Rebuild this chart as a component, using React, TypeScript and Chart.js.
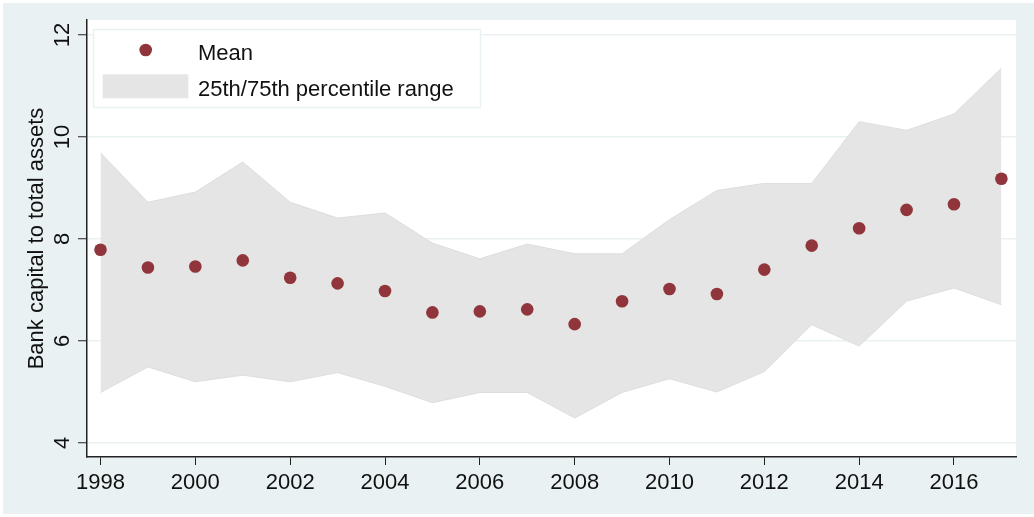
import React, { useEffect, useRef } from "react";
import { Chart, registerables } from "chart.js";

Chart.register(...registerables);

const years = [1998, 1999, 2000, 2001, 2002, 2003, 2004, 2005, 2006, 2007, 2008, 2009, 2010, 2011, 2012, 2013, 2014, 2015, 2016, 2017];
const meanValues = [7.79, 7.44, 7.46, 7.58, 7.24, 7.13, 6.98, 6.56, 6.58, 6.62, 6.33, 6.78, 7.02, 6.92, 7.40, 7.87, 8.21, 8.57, 8.68, 9.18];
const p75Values = [9.69, 8.72, 8.92, 9.51, 8.72, 8.41, 8.51, 7.92, 7.61, 7.90, 7.71, 7.71, 8.38, 8.95, 9.09, 9.09, 10.30, 10.13, 10.45, 11.35];
const p25Values = [4.99, 5.49, 5.20, 5.33, 5.20, 5.38, 5.11, 4.79, 4.99, 4.99, 4.49, 4.99, 5.26, 5.00, 5.40, 6.32, 5.90, 6.78, 7.04, 6.71];
const xTicks = [1998, 2000, 2002, 2004, 2006, 2008, 2010, 2012, 2014, 2016];
const yTicks = [4, 6, 8, 10, 12];
const yTitle = "Bank capital to total assets";
const legendMean = "Mean";
const legendBand = "25th/75th percentile range";

const BG = "#eaf1f3";
const BAND = "#e5e5e5";
const MEAN = "rgb(144,53,59)";
const FONT = '22px "Liberation Sans", Arial, Helvetica, sans-serif';
const TEXT = "#111";

const decorPlugin = {
  id: "decor",
  beforeDraw(chart: any) {
    const { ctx, chartArea, width, height } = chart;
    ctx.save();
    ctx.fillStyle = "#ffffff";
    ctx.fillRect(0, 0, width, height);
    ctx.fillStyle = BG;
    ctx.fillRect(3, 3, width - 3, height - 6);
    ctx.fillStyle = "#ffffff";
    ctx.fillRect(chartArea.left, chartArea.top, chartArea.right - chartArea.left, chartArea.bottom - chartArea.top);
    ctx.restore();
  },
  afterDraw(chart: any) {
    const { ctx, chartArea, scales } = chart;
    const xs = scales.x;
    const ys = scales.y;
    ctx.save();
    ctx.font = FONT;
    ctx.fillStyle = TEXT;
    ctx.textBaseline = "alphabetic";
    ctx.textAlign = "center";
    xTicks.forEach((v) => {
      ctx.fillText(String(v), xs.getPixelForValue(v), 488.5);
    });
    yTicks.forEach((v) => {
      ctx.save();
      ctx.translate(68.5, ys.getPixelForValue(v));
      ctx.rotate(-Math.PI / 2);
      ctx.fillText(String(v), 0, 0);
      ctx.restore();
    });
    ctx.save();
    ctx.translate(43, (chartArea.top + chartArea.bottom) / 2);
    ctx.rotate(-Math.PI / 2);
    ctx.fillText(yTitle, 0, 0);
    ctx.restore();

    // legend
    ctx.fillStyle = "#ffffff";
    ctx.fillRect(93.5, 29.5, 387, 78);
    ctx.strokeStyle = BG;
    ctx.lineWidth = 1.5;
    ctx.strokeRect(93.5, 29.5, 387, 78);
    ctx.fillStyle = MEAN;
    ctx.beginPath();
    ctx.arc(145.7, 50, 6.3, 0, Math.PI * 2);
    ctx.fill();
    ctx.fillStyle = BAND;
    ctx.fillRect(102.7, 74.3, 85.6, 24);
    ctx.fillStyle = TEXT;
    ctx.textAlign = "left";
    ctx.fillText(legendMean, 198, 59.5);
    ctx.fillText(legendBand, 198, 96);
    ctx.restore();
  },
};

export default function App() {
  const ref = useRef<HTMLCanvasElement | null>(null);
  useEffect(() => {
    document.body.style.margin = "0";
    if (!ref.current) return;
    const toPts = (vals: number[]) => years.map((yr, i) => ({ x: yr, y: vals[i] }));
    const chart = new Chart(ref.current, {
      type: "line",
      data: {
        datasets: [
          {
            label: legendMean,
            data: toPts(meanValues),
            showLine: false,
            pointRadius: 6.3,
            pointHoverRadius: 6.3,
            pointBackgroundColor: MEAN,
            pointBorderWidth: 0,
            borderColor: MEAN,
            fill: false,
          },
          {
            label: "p25",
            data: toPts(p25Values),
            borderColor: "#dedede",
            borderWidth: 1,
            pointRadius: 0,
            fill: false,
            tension: 0,
          },
          {
            label: legendBand,
            data: toPts(p75Values),
            borderColor: "#dedede",
            borderWidth: 1,
            pointRadius: 0,
            backgroundColor: BAND,
            fill: 1,
            tension: 0,
          },
        ],
      },
      options: {
        animation: false,
        responsive: false,
        maintainAspectRatio: false,
        events: [],
        layout: { padding: { left: 0, top: 20, right: 18, bottom: 0 } },
        plugins: {
          legend: { display: false },
          tooltip: { enabled: false },
          title: { display: false },
        },
        scales: {
          x: {
            type: "linear",
            min: 1997.715,
            max: 2017.308,
            afterBuildTicks: (s: any) => {
              s.ticks = xTicks.map((v) => ({ value: v }));
            },
            afterFit: (s: any) => {
              s.height = 60;
            },
            ticks: { display: false },
            grid: {
              drawOnChartArea: false,
              drawTicks: true,
              tickLength: 8,
              tickColor: "#222",
              tickWidth: 1,
            },
            border: { display: true, color: "#222", width: 1.5 },
          },
          y: {
            type: "linear",
            min: 3.725,
            max: 12.294,
            afterBuildTicks: (s: any) => {
              s.ticks = yTicks.map((v) => ({ value: v }));
            },
            afterFit: (s: any) => {
              s.width = 87;
            },
            ticks: { display: false },
            grid: {
              color: BG,
              lineWidth: 1.5,
              drawTicks: true,
              tickLength: 9,
              tickColor: "#222",
              tickWidth: 1,
            },
            border: { display: true, color: "#222", width: 1.5 },
          },
        },
      },
      plugins: [decorPlugin],
    });
    return () => chart.destroy();
  }, []);
  return <canvas ref={ref} width={1034} height={517} style={{ display: "block" }} />;
}
